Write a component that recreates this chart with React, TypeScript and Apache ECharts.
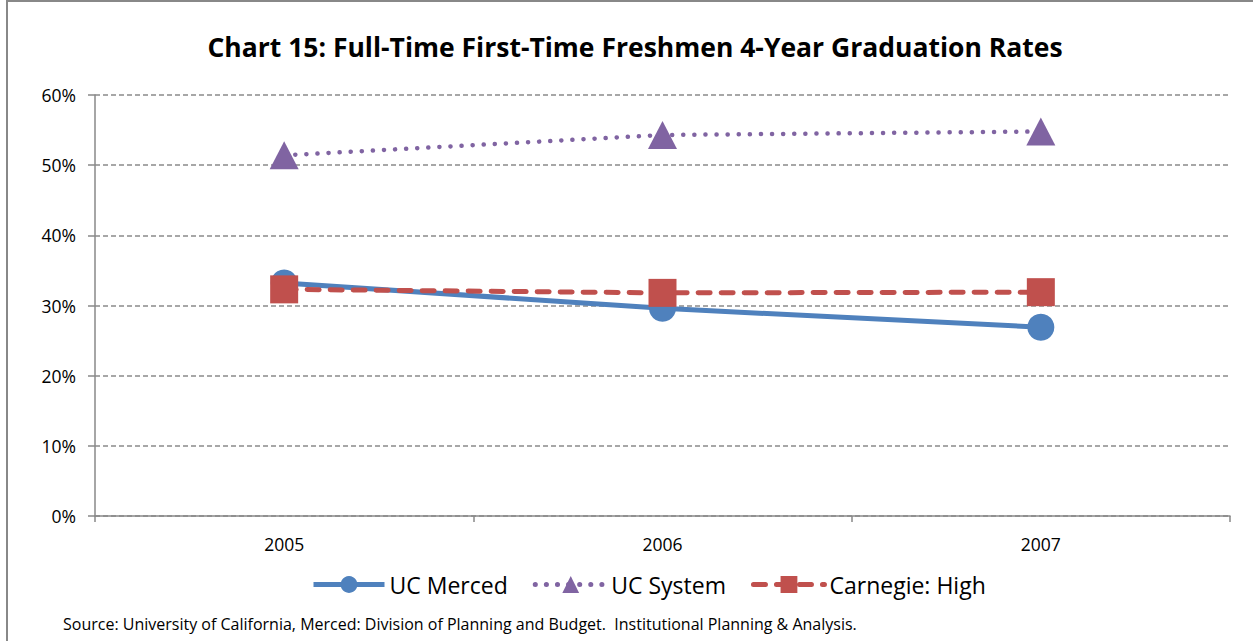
import React, { useEffect, useRef } from "react";
import * as echarts from "echarts";

const years = ["2005", "2006", "2007"];
const ucMerced = [33.2, 29.6, 26.9];
const ucSystem = [51.4, 54.3, 54.8];
const carnegieHigh = [32.3, 31.8, 31.9];
const yTicks = [0, 10, 20, 30, 40, 50, 60];

const FONT = "'Open Sans', 'Liberation Sans', sans-serif";

export default function App() {
  const ref = useRef<HTMLDivElement>(null);
  useEffect(() => {
    const chart = echarts.init(ref.current!, null, { renderer: "svg" });
    chart.setOption({
      animation: false,
      backgroundColor: "#ffffff",
      title: {
        text: "Chart 15: Full-Time First-Time Freshmen 4-Year Graduation Rates",
        left: 630,
        textAlign: "center",
        top: 28,
        textStyle: { fontFamily: FONT, fontWeight: "bold", fontSize: 26.5, color: "#000" },
      },
      grid: { left: 95, right: 23, top: 95, bottom: 125, containLabel: false },
      legend: {
        top: 568,
        left: 306,
        itemWidth: 71,
        itemHeight: 21,
        itemGap: 25,
        textStyle: { fontFamily: FONT, fontSize: 23, color: "#000" },
        lineStyle: { width: 5 },
        data: ["UC Merced", "UC System", "Carnegie: High"],
      },
      xAxis: {
        type: "category",
        data: years,
        boundaryGap: true,
        axisLine: { lineStyle: { color: "#888", width: 1.5 } },
        axisTick: { show: true, length: 6, lineStyle: { color: "#888", width: 1.5 } },
        axisLabel: { fontFamily: FONT, fontSize: 17.5, color: "#000", margin: 19 },
        splitLine: { show: false },
      },
      yAxis: {
        type: "value",
        min: yTicks[0],
        max: yTicks[yTicks.length - 1],
        interval: 10,
        axisLine: { show: true, lineStyle: { color: "#888", width: 1.5 } },
        axisTick: { show: true, length: 7, lineStyle: { color: "#888", width: 1.5 } },
        axisLabel: { fontFamily: FONT, fontSize: 17.5, color: "#000", margin: 19, formatter: "{value}%" },
        splitLine: { show: true, lineStyle: { color: "#8a8a8a", type: [5, 3], width: 1.5 } },
      },
      series: [
        {
          name: "UC Merced",
          type: "line",
          data: ucMerced,
          symbol: "circle",
          symbolSize: 27,
          itemStyle: { color: "#4f81bd" },
          lineStyle: { color: "#4f81bd", width: 5 },
          z: 2,
        },
        {
          name: "UC System",
          type: "line",
          data: ucSystem,
          symbol: "triangle",
          symbolSize: [29, 28],
          itemStyle: { color: "#8064a2" },
          lineStyle: { color: "#8064a2", width: 4.5, type: [0.1, 11], cap: "round" },
          z: 3,
        },
        {
          name: "Carnegie: High",
          type: "line",
          data: carnegieHigh,
          symbol: "rect",
          symbolSize: 28,
          itemStyle: { color: "#c0504d" },
          lineStyle: { color: "#c0504d", width: 5, type: [12, 11], cap: "round" },
          z: 4,
        },
      ],
      graphic: [
        { type: "line", shape: { x1: 7, y1: 0, x2: 7, y2: 641 }, style: { stroke: "#888", lineWidth: 2 } },
        { type: "line", shape: { x1: 7, y1: 1, x2: 1253, y2: 1 }, style: { stroke: "#888", lineWidth: 2 } },
        {
          type: "text",
          left: 63,
          top: 616,
          style: {
            text: "Source: University of California, Merced: Division of Planning and Budget.  Institutional Planning & Analysis.",
            fontFamily: FONT,
            fontSize: 16,
            fill: "#000",
          },
        },
      ],
    });
    return () => chart.dispose();
  }, []);
  return <div ref={ref} style={{ position: "absolute", left: 0, top: 0, width: 1253, height: 641 }} />;
}
